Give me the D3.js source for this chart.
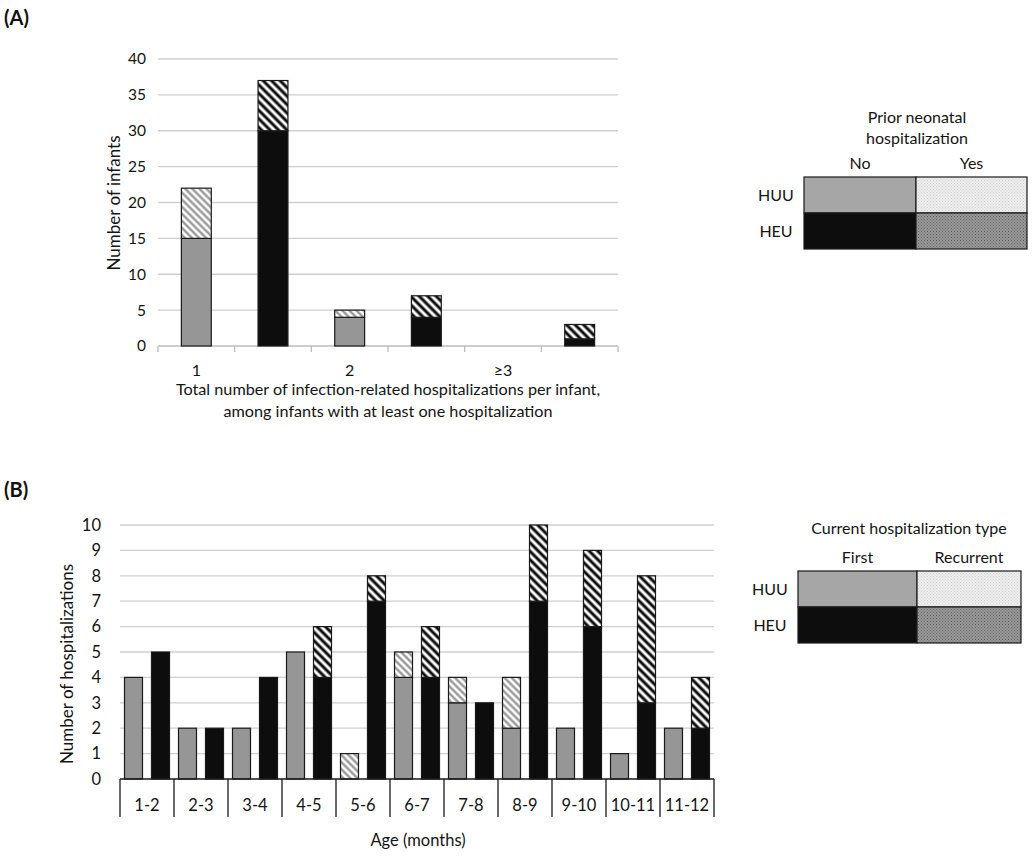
<!DOCTYPE html>
<html><head><meta charset="utf-8">
<script src="https://cdn.jsdelivr.net/npm/d3@7"></script>
<style>
html,body{margin:0;padding:0;background:#fff;}
svg{display:block;font-family:Lato,"Open Sans",sans-serif;}
</style></head>
<body>
<svg id="chart" width="1032" height="858"></svg>
<script>
// ---------- Panel A data ----------
const catA = ["1", "", "2", "", "≥3", ""];
const groupA = ["HUU", "HEU", "HUU", "HEU", "HUU", "HEU"];
const noA = [15, 30, 4, 4, 0, 1];
const yesA = [7, 7, 1, 3, 0, 2];
const ticksA = [0, 5, 10, 15, 20, 25, 30, 35, 40];

// ---------- Panel B data ----------
const ages = ["1-2", "2-3", "3-4", "4-5", "5-6", "6-7", "7-8", "8-9", "9-10", "10-11", "11-12"];
const huuFirst = [4, 2, 2, 5, 0, 4, 3, 2, 2, 1, 2];
const huuRec   = [0, 0, 0, 0, 1, 1, 1, 2, 0, 0, 0];
const heuFirst = [5, 2, 4, 4, 7, 4, 3, 7, 6, 3, 2];
const heuRec   = [0, 0, 0, 2, 1, 2, 0, 3, 3, 5, 2];
const ticksB = [0, 1, 2, 3, 4, 5, 6, 7, 8, 9, 10];
const groupsB = ["HUU", "HEU"];

const svg = d3.select("#chart");
const TXT = "#141414";
const GRID = "#cfcfcf";
const GRAY = "#969696";
const BLACK = "#0d0d0d";

// ---------- patterns ----------
const defs = svg.append("defs");
function hatch(id, color, sw, size) {
  const p = defs.append("pattern").attr("id", id).attr("patternUnits", "userSpaceOnUse")
    .attr("width", size).attr("height", size).attr("patternTransform", "rotate(-45)");
  p.append("rect").attr("width", size).attr("height", size).attr("fill", "#fff");
  p.append("line").attr("x1", size / 2).attr("x2", size / 2).attr("y1", 0).attr("y2", size)
    .attr("stroke", color).attr("stroke-width", sw);
}
hatch("hLight", "#8f8f8f", 2.2, 5);
hatch("hDark", "#0d0d0d", 3, 6);
function dots(id, bg, dot) {
  const p = defs.append("pattern").attr("id", id).attr("patternUnits", "userSpaceOnUse")
    .attr("width", 3).attr("height", 3);
  p.append("rect").attr("width", 3).attr("height", 3).attr("fill", bg);
  p.append("rect").attr("width", 1).attr("height", 1).attr("fill", dot);
  p.append("rect").attr("x", 1.5).attr("y", 1.5).attr("width", 1).attr("height", 1).attr("fill", dot);
}
dots("dLight", "#eeeeee", "#cfcfcf");
dots("dDark", "#9a9a9a", "#5e5e5e");

const fills = {
  HUU: { first: GRAY, rec: "url(#hLight)" },
  HEU: { first: BLACK, rec: "url(#hDark)" }
};

// ================= Panel A =================
svg.append("text").attr("x", 4).attr("y", 25).attr("font-size", 20).attr("font-weight", "bold")
  .attr("fill", "#111").text("(A)");

const xA = d3.scaleBand().domain(d3.range(catA.length)).range([158, 618]).paddingInner(0.61).paddingOuter(0.305);
const yA = d3.scaleLinear().domain([0, 40]).range([346, 59]);

const gA = svg.append("g");
gA.selectAll("line.grid").data(ticksA.slice(1)).join("line")
  .attr("x1", 158).attr("x2", 618).attr("y1", d => yA(d)).attr("y2", d => yA(d))
  .attr("stroke", GRID).attr("stroke-width", 1.3);

gA.selectAll("text.yt").data(ticksA).join("text")
  .attr("x", 146).attr("y", d => yA(d)).attr("dy", "0.35em").attr("text-anchor", "end")
  .attr("font-size", 15.5).attr("fill", TXT).text(d => d);

// category boundaries
const stepA = xA.step();
const boundsA = d3.range(catA.length + 1).map(i => 158 + i * stepA);
gA.append("line").attr("x1", 158).attr("x2", 618).attr("y1", yA(0)).attr("y2", yA(0))
  .attr("stroke", "#bdbdbd").attr("stroke-width", 1.3);
gA.selectAll("line.tk").data(boundsA).join("line")
  .attr("x1", d => d).attr("x2", d => d).attr("y1", yA(0)).attr("y2", yA(0) + 6)
  .attr("stroke", "#bdbdbd").attr("stroke-width", 1.3);

// bars
catA.forEach((c, i) => {
  const g = groupA[i];
  const segs = [
    { y0: 0, y1: noA[i], fill: fills[g].first },
    { y0: noA[i], y1: noA[i] + yesA[i], fill: fills[g].rec }
  ].filter(s => s.y1 > s.y0);
  gA.selectAll(null).data(segs).join("rect")
    .attr("x", xA(i)).attr("width", xA.bandwidth())
    .attr("y", s => yA(s.y1)).attr("height", s => yA(s.y0) - yA(s.y1))
    .attr("fill", s => s.fill).attr("stroke", "#1a1a1a").attr("stroke-width", 1.2);
});

gA.selectAll("text.xl").data(catA).join("text")
  .attr("x", (d, i) => xA(i) + xA.bandwidth() / 2).attr("y", 370).attr("dy", "0.35em")
  .attr("text-anchor", "middle").attr("font-size", 16).attr("fill", TXT).text(d => d);

gA.append("text").attr("x", 388).attr("y", 389).attr("dy", "0.35em").attr("text-anchor", "middle")
  .attr("font-size", 16.2).attr("fill", TXT).text("Total number of infection-related hospitalizations per infant,");
gA.append("text").attr("x", 388).attr("y", 411).attr("dy", "0.35em").attr("text-anchor", "middle")
  .attr("font-size", 16.2).attr("fill", TXT).text("among infants with at least one hospitalization");
gA.append("text").attr("transform", "translate(114,203) rotate(-90)").attr("dy", "0.35em")
  .attr("text-anchor", "middle").attr("font-size", 17).attr("fill", TXT).text("Number of infants");

// legend
function legend(x0, x1, x2, y0, y1, y2, labX, colLabels, colY, titleLines, titleX, titleY0) {
  const g = svg.append("g");
  const fs = 16;
  titleLines.forEach((t, k) => g.append("text").attr("x", titleX).attr("y", titleY0 + k * 21)
    .attr("dy", "0.35em").attr("text-anchor", "middle").attr("font-size", fs).attr("fill", TXT).text(t));
  g.append("text").attr("x", (x0 + x1) / 2).attr("y", colY).attr("dy", "0.35em").attr("text-anchor", "middle")
    .attr("font-size", fs).attr("fill", TXT).text(colLabels[0]);
  g.append("text").attr("x", (x1 + x2) / 2).attr("y", colY).attr("dy", "0.35em").attr("text-anchor", "middle")
    .attr("font-size", fs).attr("fill", TXT).text(colLabels[1]);
  const cells = [
    { x: x0, y: y0, w: x1 - x0, h: y1 - y0, f: "#a6a6a6" },
    { x: x1, y: y0, w: x2 - x1, h: y1 - y0, f: "url(#dLight)" },
    { x: x0, y: y1, w: x1 - x0, h: y2 - y1, f: BLACK },
    { x: x1, y: y1, w: x2 - x1, h: y2 - y1, f: "url(#dDark)" }
  ];
  g.selectAll("rect").data(cells).join("rect").attr("x", d => d.x).attr("y", d => d.y)
    .attr("width", d => d.w).attr("height", d => d.h).attr("fill", d => d.f)
    .attr("stroke", "#1a1a1a").attr("stroke-width", 1.2);
  groupsB.forEach((lab, k) => g.append("text").attr("x", labX).attr("y", k === 0 ? (y0 + y1) / 2 : (y1 + y2) / 2)
    .attr("dy", "0.35em").attr("text-anchor", "middle").attr("font-size", fs).attr("fill", TXT).text(lab));
}
legend(804, 916, 1027, 177, 213, 249, 776, ["No", "Yes"], 163, ["Prior neonatal", "hospitalization"], 917, 117);

// ================= Panel B =================
svg.append("text").attr("x", 4).attr("y", 497).attr("font-size", 20).attr("font-weight", "bold")
  .attr("fill", "#111").text("(B)");

const xB = d3.scaleBand().domain(ages).range([120, 714]).padding(0);
const xB1 = d3.scaleBand().domain(groupsB).range([0, xB.bandwidth()]).paddingInner(1 / 3).paddingOuter(1 / 6);
const yB = d3.scaleLinear().domain([0, 10]).range([779, 525]);

const gB = svg.append("g");
gB.selectAll("line.grid").data(ticksB.slice(1)).join("line")
  .attr("x1", 120).attr("x2", 714).attr("y1", d => yB(d)).attr("y2", d => yB(d))
  .attr("stroke", GRID).attr("stroke-width", 1.3);
gB.selectAll("text.yt").data(ticksB).join("text")
  .attr("x", 101).attr("y", d => yB(d)).attr("dy", "0.35em").attr("text-anchor", "end")
  .attr("font-size", 16.5).attr("fill", TXT).text(d => d);

ages.forEach((a, i) => {
  const segs = [
    { g: "HUU", y0: 0, y1: huuFirst[i], f: fills.HUU.first },
    { g: "HUU", y0: huuFirst[i], y1: huuFirst[i] + huuRec[i], f: fills.HUU.rec },
    { g: "HEU", y0: 0, y1: heuFirst[i], f: fills.HEU.first },
    { g: "HEU", y0: heuFirst[i], y1: heuFirst[i] + heuRec[i], f: fills.HEU.rec }
  ].filter(s => s.y1 > s.y0);
  gB.selectAll(null).data(segs).join("rect")
    .attr("x", s => xB(a) + xB1(s.g)).attr("width", xB1.bandwidth())
    .attr("y", s => yB(s.y1)).attr("height", s => yB(s.y0) - yB(s.y1))
    .attr("fill", s => s.f).attr("stroke", "#1a1a1a").attr("stroke-width", 1.2);
});

gB.append("line").attr("x1", 120).attr("x2", 714).attr("y1", yB(0)).attr("y2", yB(0))
  .attr("stroke", "#1a1a1a").attr("stroke-width", 1.3);
const boundsB = ages.map(a => xB(a)).concat([xB.range()[1]]);
gB.selectAll("line.sep").data(boundsB).join("line")
  .attr("x1", d => d).attr("x2", d => d).attr("y1", yB(0)).attr("y2", 817)
  .attr("stroke", "#1a1a1a").attr("stroke-width", 1.3);
gB.selectAll("text.xl").data(ages).join("text")
  .attr("x", d => xB(d) + xB.bandwidth() / 2).attr("y", 805).attr("dy", "0.35em")
  .attr("text-anchor", "middle").attr("font-size", 16.5).attr("fill", TXT).text(d => d);

gB.append("text").attr("x", 418).attr("y", 840).attr("dy", "0.35em").attr("text-anchor", "middle")
  .attr("font-size", 16.5).attr("fill", TXT).text("Age (months)");
gB.append("text").attr("transform", "translate(67,664) rotate(-90)").attr("dy", "0.35em")
  .attr("text-anchor", "middle").attr("font-size", 17).attr("fill", TXT).text("Number of hospitalizations");

legend(798, 917, 1021, 571, 607, 643, 770, ["First", "Recurrent"], 557, ["Current hospitalization type"], 909, 528);
</script>
</body></html>
